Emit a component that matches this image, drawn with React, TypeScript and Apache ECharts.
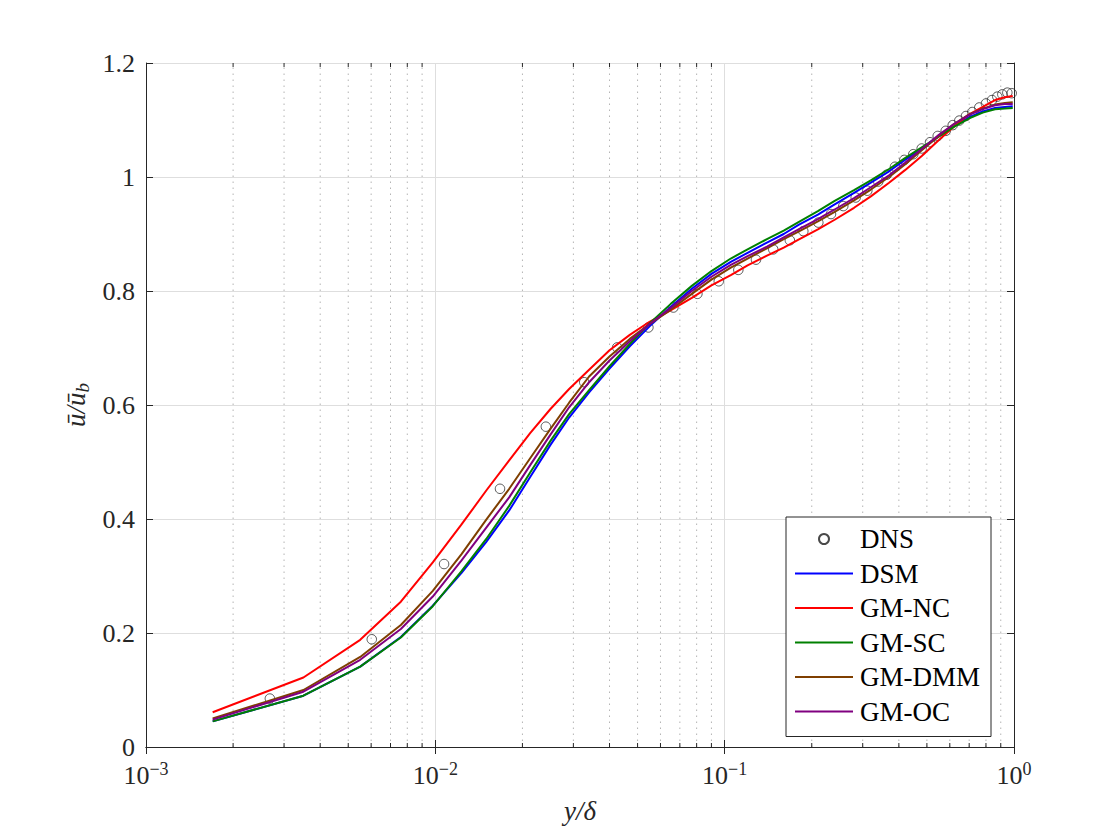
import React, { useEffect, useRef } from "react";
import * as echarts from "echarts";

const X_GRID = [0.0017, 0.0035, 0.0055, 0.0076, 0.0098, 0.0123, 0.015, 0.018, 0.0213, 0.025, 0.029, 0.034, 0.040, 0.047, 0.055, 0.065, 0.077, 0.09, 0.105, 0.12, 0.14, 0.16, 0.18, 0.21, 0.24, 0.28, 0.32, 0.37, 0.42, 0.48, 0.55, 0.62, 0.70, 0.78, 0.86, 0.93, 0.99];

const DSM = [0.045, 0.090, 0.141, 0.193, 0.248, 0.305, 0.360, 0.415, 0.474, 0.530, 0.578, 0.622, 0.664, 0.703, 0.738, 0.772, 0.804, 0.830, 0.851, 0.867, 0.885, 0.900, 0.916, 0.934, 0.952, 0.972, 0.990, 1.010, 1.030, 1.050, 1.071, 1.089, 1.105, 1.115, 1.121, 1.123, 1.124];
const GM_NC = [0.061, 0.122, 0.188, 0.255, 0.324, 0.390, 0.450, 0.503, 0.551, 0.593, 0.628, 0.662, 0.696, 0.723, 0.746, 0.766, 0.788, 0.810, 0.828, 0.845, 0.862, 0.876, 0.890, 0.908, 0.925, 0.946, 0.966, 0.990, 1.012, 1.037, 1.065, 1.088, 1.110, 1.123, 1.135, 1.140, 1.142];
const GM_SC = [0.045, 0.090, 0.141, 0.192, 0.247, 0.308, 0.365, 0.423, 0.482, 0.537, 0.584, 0.626, 0.668, 0.707, 0.743, 0.777, 0.809, 0.835, 0.857, 0.873, 0.891, 0.906, 0.921, 0.940, 0.958, 0.977, 0.994, 1.014, 1.033, 1.052, 1.071, 1.088, 1.103, 1.113, 1.119, 1.120, 1.121];
const GM_DMM = [0.050, 0.100, 0.158, 0.214, 0.274, 0.338, 0.399, 0.453, 0.507, 0.558, 0.604, 0.650, 0.685, 0.716, 0.742, 0.767, 0.795, 0.820, 0.841, 0.857, 0.875, 0.891, 0.904, 0.922, 0.939, 0.959, 0.978, 1.000, 1.022, 1.047, 1.072, 1.093, 1.110, 1.120, 1.127, 1.130, 1.131];
const GM_OC = [0.048, 0.097, 0.153, 0.207, 0.264, 0.327, 0.385, 0.438, 0.495, 0.548, 0.596, 0.640, 0.678, 0.712, 0.742, 0.770, 0.800, 0.825, 0.846, 0.861, 0.878, 0.894, 0.908, 0.926, 0.943, 0.963, 0.982, 1.003, 1.025, 1.049, 1.074, 1.093, 1.109, 1.119, 1.126, 1.128, 1.128];

const DNS_X = [0.00268, 0.00603, 0.01072, 0.01673, 0.0241, 0.0327, 0.0425, 0.0545, 0.0665, 0.0805, 0.0954, 0.1115, 0.1283, 0.1472, 0.168, 0.187, 0.2107, 0.2331, 0.257, 0.2837, 0.3112, 0.3396, 0.3631, 0.3879, 0.4178, 0.4487, 0.4797, 0.5125, 0.5449, 0.5808, 0.614, 0.6471, 0.6823, 0.7177, 0.7586, 0.8001, 0.8395, 0.8756, 0.9112, 0.9482, 0.9818];
const DNS_U = [0.085, 0.189, 0.321, 0.453, 0.562, 0.640, 0.701, 0.736, 0.771, 0.795, 0.817, 0.837, 0.855, 0.873, 0.889, 0.905, 0.920, 0.935, 0.949, 0.964, 0.976, 0.992, 1.004, 1.018, 1.030, 1.040, 1.050, 1.061, 1.072, 1.081, 1.091, 1.099, 1.107, 1.114, 1.122, 1.129, 1.135, 1.141, 1.145, 1.148, 1.147];

const MINOR_X = [0.002, 0.003, 0.004, 0.005, 0.006, 0.007, 0.008, 0.009, 0.02, 0.03, 0.04, 0.05, 0.06, 0.07, 0.08, 0.09, 0.2, 0.3, 0.4, 0.5, 0.6, 0.7, 0.8, 0.9];

const LINE_SERIES = [
  { name: "DSM", values: DSM, color: "#0000ff" },
  { name: "GM-NC", values: GM_NC, color: "#ff0000" },
  { name: "GM-SC", values: GM_SC, color: "#008000" },
  { name: "GM-DMM", values: GM_DMM, color: "#7f3f00" },
  { name: "GM-OC", values: GM_OC, color: "#800080" },
];

const FONT = "'Liberation Serif', 'DejaVu Serif', serif";
const AXIS_COLOR = "#262626";
const LINE_ICON = "path://M0,0L58,0L58,2.2L0,2.2Z";

export default function App() {
  const ref = useRef<HTMLDivElement>(null);
  useEffect(() => {
    if (!ref.current) return;
    const chart = echarts.init(ref.current, undefined, { renderer: "svg" });
    const option: any = {
      animation: false,
      backgroundColor: "#ffffff",
      textStyle: { fontFamily: FONT },
      grid: { left: 146, top: 63, width: 868, height: 684, containLabel: false },
      xAxis: [
        {
          type: "log",
          logBase: 10,
          min: 0.001,
          max: 1,
          position: "bottom",
          axisLine: { show: true, lineStyle: { color: AXIS_COLOR, width: 1 } },
          axisTick: { show: true, inside: true, length: 7, lineStyle: { color: AXIS_COLOR } },
          axisLabel: {
            margin: 13,
            color: AXIS_COLOR,
            formatter: (v: number) => {
              const e = Math.round(Math.log10(v));
              return `{b|10}{s|${e < 0 ? "\u2212" + -e : e}}`;
            },
            rich: {
              b: { fontFamily: FONT, fontSize: 26, lineHeight: 30, color: AXIS_COLOR },
              s: { fontFamily: FONT, fontSize: 18, lineHeight: 12, verticalAlign: "top", color: AXIS_COLOR },
            },
          },
          splitLine: { show: true, lineStyle: { color: "#dedede", width: 1 } },
          name: "y/\u03b4",
          nameLocation: "middle",
          nameGap: 50,
          nameTextStyle: { fontFamily: FONT, fontStyle: "italic", fontSize: 27, color: AXIS_COLOR },
        },
        {
          type: "log",
          logBase: 10,
          min: 0.001,
          max: 1,
          position: "top",
          axisLine: { show: true, lineStyle: { color: AXIS_COLOR, width: 1 } },
          axisTick: { show: true, inside: true, length: 7, lineStyle: { color: AXIS_COLOR } },
          axisLabel: { show: false },
          splitLine: { show: false },
        },
      ],
      yAxis: [
        {
          type: "value",
          min: 0,
          max: 1.2,
          interval: 0.2,
          position: "left",
          axisLine: { show: true, lineStyle: { color: AXIS_COLOR, width: 1 } },
          axisTick: { show: true, inside: true, length: 7, lineStyle: { color: AXIS_COLOR } },
          axisLabel: {
            margin: 11,
            color: AXIS_COLOR,
            fontFamily: FONT,
            fontSize: 26,
            formatter: (v: number) => String(parseFloat(v.toFixed(2))),
          },
          splitLine: { show: true, lineStyle: { color: "#dedede", width: 1 } },
          name: "{a|\u016b/\u016b}{b|b}",
          nameLocation: "middle",
          nameGap: 53,
          nameRotate: 90,
          nameTextStyle: {
            rich: {
              a: { fontFamily: FONT, fontStyle: "italic", fontSize: 27, lineHeight: 32, color: AXIS_COLOR },
              b: { fontFamily: FONT, fontStyle: "italic", fontSize: 19, lineHeight: 16, verticalAlign: "bottom", color: AXIS_COLOR },
            },
          },
        },
        {
          type: "value",
          min: 0,
          max: 1.2,
          interval: 0.2,
          position: "right",
          axisLine: { show: true, lineStyle: { color: AXIS_COLOR, width: 1 } },
          axisTick: { show: true, inside: true, length: 7, lineStyle: { color: AXIS_COLOR } },
          axisLabel: { show: false },
          splitLine: { show: false },
        },
      ],
      legend: {
        data: [
          { name: "DNS", icon: "circle" },
          ...LINE_SERIES.map((s) => ({ name: s.name, icon: LINE_ICON, itemStyle: { color: s.color } })),
        ],
        orient: "vertical",
        left: 786,
        top: 517,
        padding: [8, 11, 11, 9],
        itemWidth: 58,
        itemHeight: 10,
        itemGap: 6.5,
        borderColor: AXIS_COLOR,
        borderWidth: 1,
        borderRadius: 0,
        backgroundColor: "#ffffff",
        textStyle: { fontFamily: FONT, fontSize: 27, lineHeight: 28, color: "#000000", padding: [0, 0, 0, 2] },
      },
      series: [
        {
          type: "custom",
          name: "minor",
          xAxisIndex: 0,
          yAxisIndex: 0,
          silent: true,
          z: 1,
          clip: false,
          data: MINOR_X.map((v) => [v, 0]),
          encode: { x: 0, y: 1 },
          renderItem: (params: any, api: any) => {
            const v = api.value(0);
            const p0 = api.coord([v, 0]);
            const p1 = api.coord([v, 1.2]);
            return {
              type: "group",
              children: [
                {
                  type: "line",
                  shape: { x1: p0[0], y1: p0[1], x2: p1[0], y2: p1[1] },
                  style: { stroke: "#b4b4b4", lineWidth: 1, lineDash: [1.5, 4.5] },
                },
                {
                  type: "line",
                  shape: { x1: p0[0], y1: p0[1], x2: p0[0], y2: p0[1] - 4 },
                  style: { stroke: AXIS_COLOR, lineWidth: 1 },
                },
                {
                  type: "line",
                  shape: { x1: p1[0], y1: p1[1], x2: p1[0], y2: p1[1] + 4 },
                  style: { stroke: AXIS_COLOR, lineWidth: 1 },
                },
              ],
            };
          },
        },
        {
          type: "scatter",
          name: "DNS",
          symbol: "circle",
          symbolSize: 9.5,
          z: 3,
          data: DNS_X.map((x, i) => [x, DNS_U[i]]),
          itemStyle: { color: "rgba(255,255,255,0)", borderColor: "#1a1a1a", borderWidth: 0.9 },
        },
        ...LINE_SERIES.map((s) => ({
          type: "line",
          name: s.name,
          z: 4,
          symbol: "none",
          showSymbol: false,
          data: X_GRID.map((x, i) => [x, s.values[i]]),
          lineStyle: { color: s.color, width: 2 },
          itemStyle: { color: s.color },
        })),
      ],
    };
    chart.setOption(option);
    return () => chart.dispose();
  }, []);
  return (
    <div
      ref={ref}
      style={{ position: "absolute", left: 0, top: 0, width: "1120px", height: "840px", background: "#fff" }}
    />
  );
}
